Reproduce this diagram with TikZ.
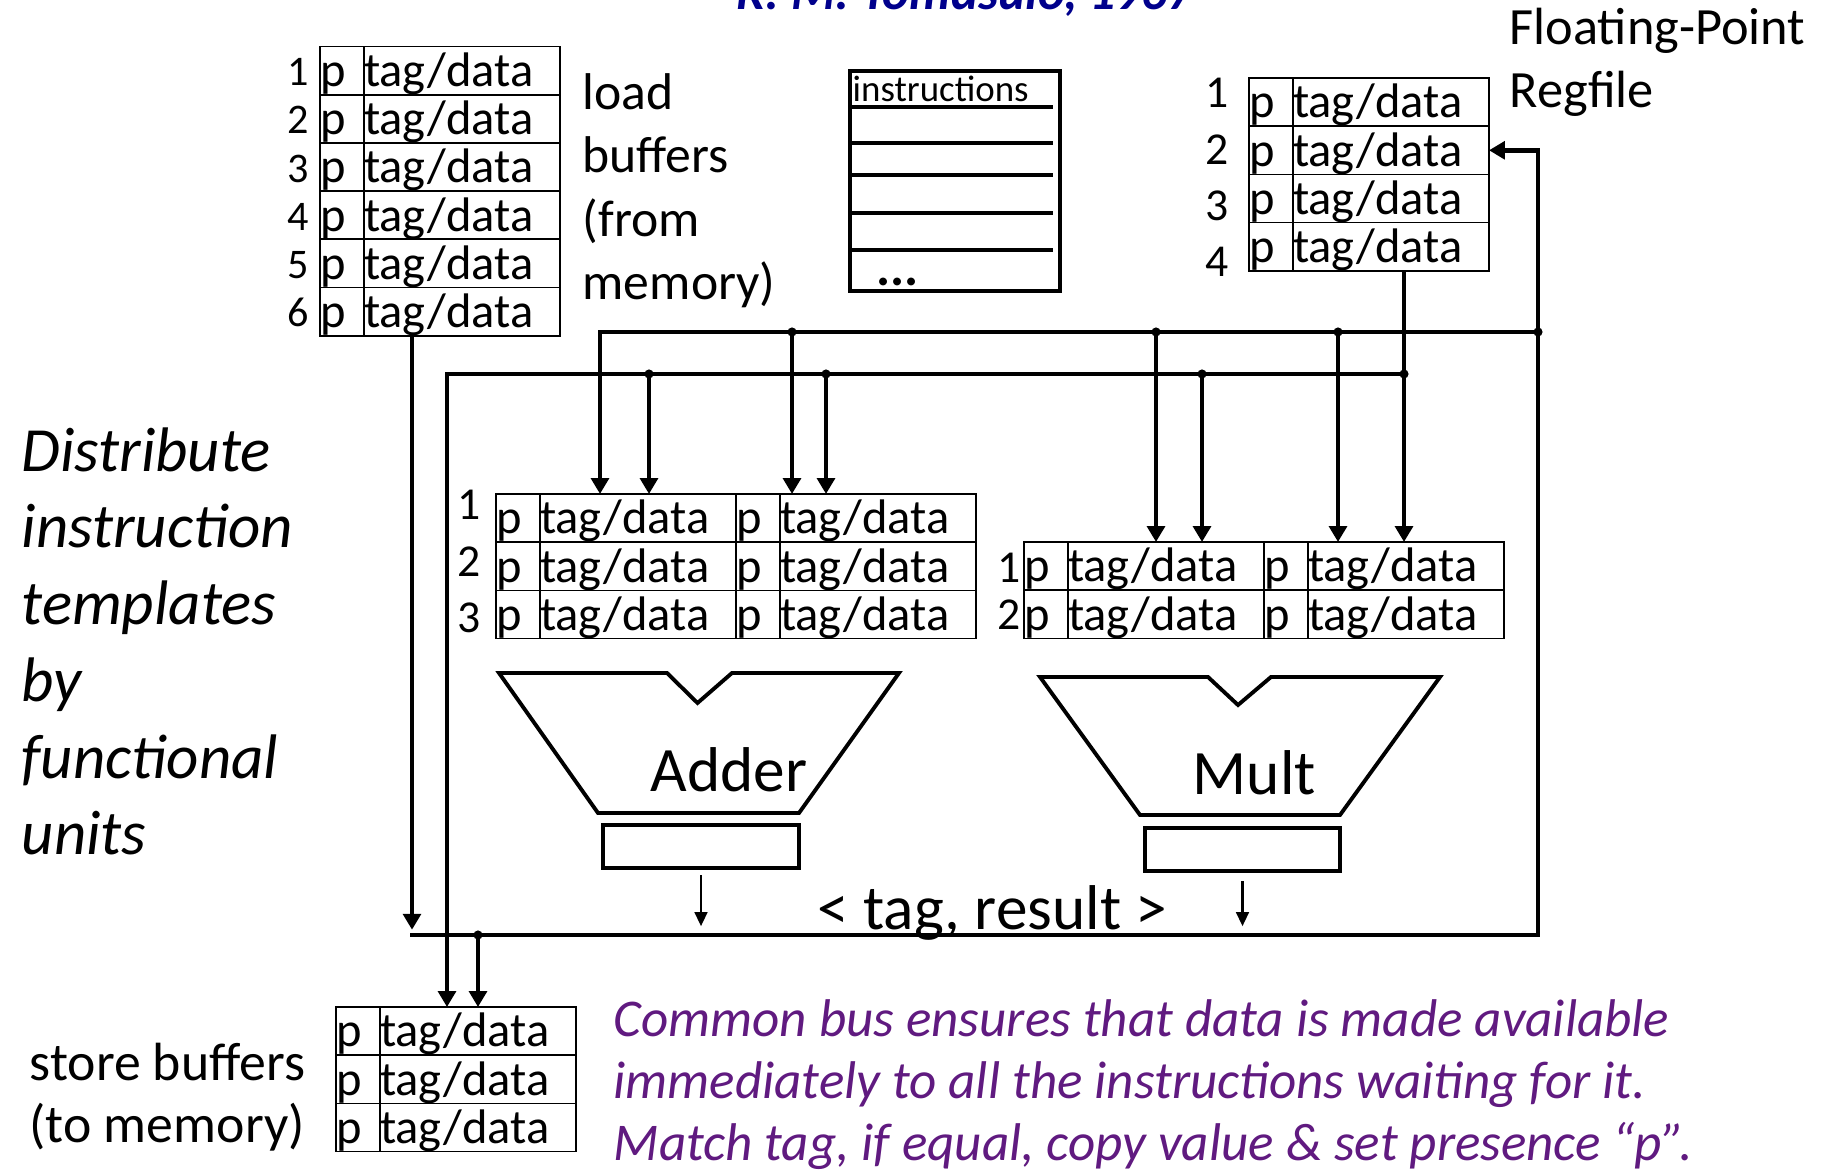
\documentclass[tikz,border=0pt]{standalone}
\usepackage{fontspec}
\setmainfont{Carlito}
\usepackage{xcolor}
\usetikzlibrary{positioning,arrows.meta}

\definecolor{tomblue}{RGB}{0,0,140}
\definecolor{notepurple}{RGB}{96,26,128}

\begin{document}
\begin{tikzpicture}[x=1cm, y=-1cm,
    cell/.style={draw, line width=0.5pt, anchor=north west, outer sep=0pt,
        inner sep=0pt, text height=0.40cm, text depth=0.082cm, align=left,
        font=\fontsize{13.8}{15}\selectfont},
    pcell/.style={cell, text width=0.44cm},
    dcell/.style={cell, text width=1.96cm},
    txt/.style={inner sep=0pt, anchor=base west, align=left},
    num/.style={inner sep=0pt, anchor=base, font=\fontsize{13}{14}\selectfont},
    bus/.style={line width=1.4pt},
    busfeed/.style={bus, -{Triangle[length=4.5pt,width=5pt]}},
    feed/.style={line width=1.2pt, -{Triangle[length=4.5pt,width=5pt]}},
    outarr/.style={line width=0.7pt, -{Triangle[length=4pt,width=3.6pt]}, shorten >=2.5pt},
    alu/.style={line width=1.1pt, line join=miter},
    reg/.style={draw, line width=1.2pt, inner sep=0pt, minimum height=0.43cm}]

    \useasboundingbox (0,0) rectangle (18.30,11.73);

    % Title (cut off by the top edge)
    \node[anchor=base, inner sep=0pt, text=tomblue,
        font=\bfseries\itshape\fontsize{14.6}{16}\selectfont] (title) at (9.65,0.10) {R. M. Tomasulo, 1967};

    % Load buffers
    \foreach \i in {1,...,6}{
        \node[pcell] (lbp\i) at (3.20,{0.465+0.482*(\i-1)}) {p};
        \node[dcell, right=0pt of lbp\i] (lbd\i) {tag/data};
        \node[num, anchor=base east, font=\fontsize{12}{13}\selectfont] (lbn\i)
            at ([xshift=-0.1cm, yshift=0.09cm]lbp\i.south west) {\i};
    }
    % (base of a multi-line node = its last line)
    \node[txt, font=\fontsize{14.7}{18.07}\selectfont] (lbtxt) at (5.82,3.00) {load\\buffers\\(from\\memory)};

    % Instruction queue
    \node[draw, line width=1.2pt, minimum width=2.10cm, minimum height=2.20cm,
        anchor=north west, inner sep=0pt] (iq) at (8.48,0.69) {};
    \foreach \y in {1.07,1.43,1.75,2.13,2.50}
        \draw[line width=1.2pt] (8.52,\y) -- (10.53,\y);
    \node[txt, font=\fontsize{10.5}{11}\selectfont] (iqtxt) at (8.52,1.02) {instructions};
    \node[txt, font=\bfseries\fontsize{15}{16}\selectfont] (iqdots) at (8.76,2.86) {...};

    % Floating-point register file
    \foreach \i in {1,...,4}{
        \node[pcell] (rfp\i) at (12.49,{0.78+0.482*(\i-1)}) {p};
        \node[dcell, right=0pt of rfp\i] (rfd\i) {tag/data};
        \node[num] (rfn\i) at (12.17,{1.08+0.563*(\i-1)}) {\i};
    }
    \node[txt, font=\fontsize{14.9}{18.2}\selectfont] (rftxt) at (15.09,1.08) {Floating-Point\\Regfile};

    % Adder reservation stations
    \foreach \i in {1,2,3}{
        \node[pcell] (arp\i) at (4.96,{4.94+0.482*(\i-1)}) {p};
        \node[dcell, right=0pt of arp\i] (ara\i) {tag/data};
        \node[pcell, right=0pt of ara\i] (arq\i) {p};
        \node[dcell, right=0pt of arq\i] (arb\i) {tag/data};
        \node[num] (arn\i) at (4.69,{5.20+0.565*(\i-1)}) {\i};
    }

    % Mult reservation stations
    \foreach \i in {1,2}{
        \node[pcell] (mrp\i) at (10.24,{5.42+0.482*(\i-1)}) {p};
        \node[dcell, right=0pt of mrp\i] (mra\i) {tag/data};
        \node[pcell, right=0pt of mra\i] (mrq\i) {p};
        \node[dcell, right=0pt of mrq\i] (mrb\i) {tag/data};
        \node[num] (mrn\i) at (10.09,{5.83+0.47*(\i-1)}) {\i};
    }

    % Store buffers
    \foreach \i in {1,2,3}{
        \node[pcell] (sbp\i) at (3.36,{10.07+0.482*(\i-1)}) {p};
        \node[dcell, right=0pt of sbp\i] (sbd\i) {tag/data};
    }
    \node[txt, font=\fontsize{15.3}{17.4}\selectfont] (sbtxt) at (0.29,11.42) {store buffers\\(to memory)};

    % Functional units
    \draw[alu] (4.99,6.73) -- (6.67,6.73) -- (6.975,7.03) -- (7.32,6.73) -- (8.99,6.73)
        -- (7.99,8.13) -- (5.98,8.13) -- cycle;
    \node[txt, font=\fontsize{18}{20}\selectfont] (addtxt) at (6.50,7.92) {Adder};
    \node[reg, minimum width=1.96cm] (addreg) at (7.01,8.465) {};

    \draw[alu] (10.40,6.77) -- (12.08,6.77) -- (12.38,7.05) -- (12.71,6.77) -- (14.40,6.77)
        -- (13.40,8.15) -- (11.40,8.15) -- cycle;
    \node[txt, font=\fontsize{18}{20}\selectfont] (multxt) at (11.92,7.95) {Mult};
    \node[reg, minimum width=1.95cm] (mulreg) at (12.425,8.495) {};

    % Common data bus
    \coordinate (cdbl) at (4.10,9.35);
    \coordinate (cdbr) at (15.38,9.35);
    \coordinate (cdbt) at (15.38,3.32);
    \coordinate (cdba) at (6.00,3.32);
    \coordinate (ta2) at (7.92,3.32);
    \coordinate (tm1) at (11.56,3.32);
    \coordinate (tm2) at (13.38,3.32);
    \coordinate (ldo) at (4.12,9.35);
    \coordinate (sb2) at (4.78,9.35);
    \draw[bus] (cdbl) -- (cdbr) -- (cdbt);
    \draw[busfeed] (cdbt) -- (cdba) -- (cdba |- ara1.north);
    \draw[busfeed] (cdbt) |- (rfd2.east);
    \draw[feed] (ta2) -- (ta2 |- arb1.north);
    \draw[feed] (tm1) -- (tm1 |- mra1.north);
    \draw[feed] (tm2) -- (tm2 |- mrb1.north);
    \draw[busfeed, shorten >=1.5pt] (ldo |- lbd6.south) -- (ldo);
    \draw[feed] (sb2) -- (sb2 |- sbd1.north);
    \node[txt, font=\fontsize{18}{20}\selectfont] (tagres) at (8.17,9.30) {< tag, result >};

    % Results onto the bus
    \draw[outarr] ([yshift=-0.05cm]addreg.south) -- (addreg.south |- cdbl);
    \draw[outarr] ([yshift=-0.08cm]mulreg.south) -- (mulreg.south |- cdbl);

    % Operand bus from the register file
    \coordinate (rfo) at (14.04,3.74);
    \coordinate (obl) at (4.47,3.74);
    \coordinate (ob1) at (6.49,3.74);
    \coordinate (ob2) at (8.26,3.74);
    \coordinate (om1) at (12.02,3.74);
    \draw[busfeed] (rfo |- rfd4.south) -- (rfo |- mrb1.north);
    \draw[busfeed] (rfo) -- (obl) -- (obl |- sbd1.north);
    \draw[feed] (ob1) -- (ob1 |- ara1.north);
    \draw[feed] (ob2) -- (ob2 |- arb1.north);
    \draw[feed] (om1) -- (om1 |- mra1.north);

    % Junction dots
    \foreach \p in {ta2,tm1,tm2,cdbt,ob1,ob2,om1,rfo,sb2}
        \fill (\p) circle (1.3pt);

    % Side notes
    \node[txt, font=\itshape\fontsize{17.9}{21.85}\selectfont] (disttxt) at (0.21,8.55)
        {Distribute\\instruction\\templates\\by\\functional\\units};
    \node[txt, text=notepurple, font=\itshape\fontsize{15.1}{17.6}\selectfont] (notetxt) at (6.13,11.60)
        {Common bus ensures that data is made available\\immediately to all the instructions waiting for it.\\Match tag, if equal, copy value \& set presence “p”.};
\end{tikzpicture}
\end{document}
